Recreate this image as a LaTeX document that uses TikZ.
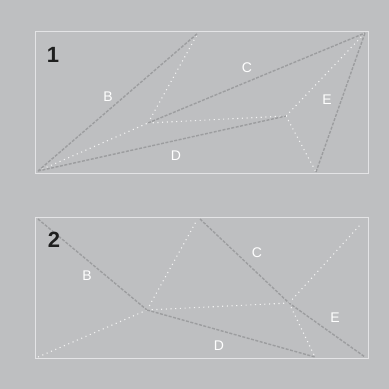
\documentclass[tikz,border=0pt]{standalone}
\usepackage{fontspec}
\setmainfont{Liberation Sans}
\definecolor{bg}{HTML}{BEBFC1}
\definecolor{frame}{HTML}{E4E4E6}
\definecolor{dsh}{HTML}{9C9D9F}
\definecolor{dot}{HTML}{F2F2F2}
\tikzset{
  panel/.style={draw=frame, line width=1pt},
  dline/.style={draw=dsh, line width=1.4pt, dash pattern=on 3pt off 1.5pt},
  wline/.style={draw=dot, line width=1.1pt, dash pattern=on 1.1pt off 3.6pt},
  lbl/.style={text=white, font=\fontsize{14}{14}\selectfont, inner sep=0pt},
  num/.style={text=black!88, font=\fontsize{22}{22}\selectfont\bfseries, inner sep=0pt}
}
\begin{document}
\begin{tikzpicture}[x=1pt,y=-1pt]
\useasboundingbox (0,0) rectangle (389,389);
\fill[bg] (0,0) rectangle (389,389);
% panel 1
\draw[panel] (35,31) rectangle (368,173);
\coordinate (a0) at (38,171);
\coordinate (aB) at (198,33);
\coordinate (aT) at (365,33);
\coordinate (aI) at (148,123);
\coordinate (aD) at (286,116);
\coordinate (aE) at (316,172);
\draw[wline] (a0) -- (aI);
\draw[wline] (aI) -- (aB);
\draw[wline] (aI) -- (aD);
\draw[wline] (aD) -- (aE);
\draw[wline] (aD) -- (aT);
\draw[dline] (a0) -- (aB);
\draw[dline] (a0) -- (aD);
\draw[dline] (aI) -- (aT);
\draw[dline] (aE) -- (aT);
\node[num] (n1) at (53,55) {1};
\node[lbl] (b1) at (108,97) {B};
\node[lbl] (c1) at (247,68) {C};
\node[lbl] (e1) at (327,100) {E};
\node[lbl] (d1) at (176,156) {D};
% panel 2
\draw[panel] (35,217) rectangle (368,358);
\coordinate (b0) at (38,219);
\coordinate (bL) at (38,357);
\coordinate (bI) at (147,310);
\coordinate (bD) at (315,357);
\coordinate (bC) at (200,219);
\coordinate (bJ) at (289,303);
\coordinate (bE) at (365,357);
\coordinate (bU) at (197,220);
\coordinate (bR) at (360,225);
\draw[wline] (bL) -- (bI);
\draw[wline] (bI) -- (bU);
\draw[wline] (bI) -- (bJ);
\draw[wline] (bJ) -- (bR);
\draw[wline] (bJ) -- (bD);
\draw[dline] (b0) -- (bI);
\draw[dline] (bI) -- (bD);
\draw[dline] (bC) -- (bJ) -- (bE);
\node[num] (n2) at (54,240) {2};
\node[lbl] (b2) at (87,276) {B};
\node[lbl] (c2) at (257,253) {C};
\node[lbl] (e2) at (335,318) {E};
\node[lbl] (d2) at (219,346) {D};
\end{tikzpicture}
\end{document}
